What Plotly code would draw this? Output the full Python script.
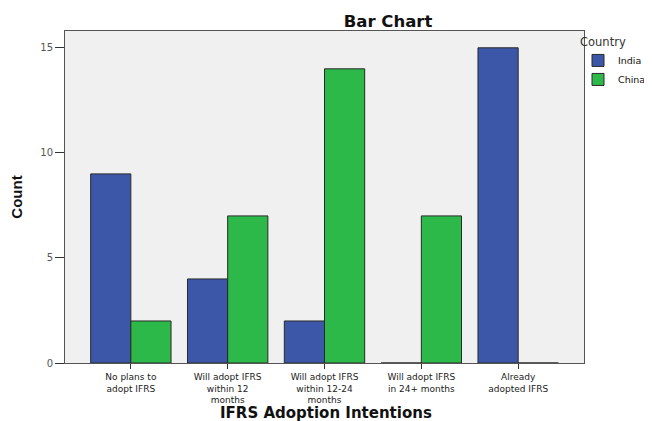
import plotly.graph_objects as go

categories = ["No plans to<br>adopt IFRS", "Will adopt IFRS<br>within 12<br>months",
              "Will adopt IFRS<br>within 12-24<br>months", "Will adopt IFRS<br>in 24+ months",
              "Already<br>adopted IFRS"]
india = [9, 4, 2, 0, 15]
china = [2, 7, 14, 7, 0]
y_ticks = [0, 5, 10, 15]

# page body has an 8px margin, so the figure is 8px smaller than the window
W, H = 644, 413
L, R, T, B = 57, 68, 23, 58
pw, ph = W - L - R, H - T - B

fig = go.Figure()
fig.add_bar(x=categories, y=india, name="India",
            marker=dict(color="#3c56a8", line=dict(color="#2a2a2a", width=1)))
fig.add_bar(x=categories, y=china, name="China",
            marker=dict(color="#2db84a", line=dict(color="#2a2a2a", width=1)))

fig.update_layout(
    width=W, height=H,
    margin=dict(l=L, r=R, t=T, b=B, autoexpand=False),
    paper_bgcolor="white", plot_bgcolor="#f0f0f0",
    barmode="group", bargap=0.17, bargroupgap=0,
    font=dict(family="DejaVu Sans, Verdana, sans-serif", size=10, color="#222"),
    title=dict(text="<b>Bar Chart</b>", x=380 / W, xanchor="center", y=1 - 13 / H, yanchor="middle",
               font=dict(family="DejaVu Sans, sans-serif", size=16.5, color="#111")),
    legend=dict(title=dict(text="Country", font=dict(size=11.5, color="#333")),
                x=(W - 1 - L) / pw, xanchor="right", y=1.0, yanchor="top",
                font=dict(size=9.5, color="#111"), itemwidth=30, tracegroupgap=0,
                bgcolor="rgba(0,0,0,0)"),
    showlegend=True,
    annotations=[dict(text="<b>IFRS Adoption Intentions</b>", xref="paper", yref="paper",
                      x=(318 - L) / pw, y=-(405 - (H - B)) / ph, xanchor="center", yanchor="middle",
                      showarrow=False, font=dict(family="DejaVu Sans, sans-serif", size=15, color="#111"))],
)
fig.update_xaxes(range=[-0.68, 4.68], showgrid=False, showline=True, linecolor="#555", linewidth=1,
                 mirror=True, ticks="outside", ticklen=5, tickcolor="#333",
                 tickfont=dict(family="DejaVu Sans, sans-serif", size=9, color="#222"))
fig.update_yaxes(range=[0, 15.8], tickvals=y_ticks, showgrid=False, zeroline=False, showline=True,
                 linecolor="#555", linewidth=1, mirror=True, ticks="outside", ticklen=9, tickcolor="#333",
                 tickfont=dict(family="DejaVu Sans, sans-serif", size=10, color="#555"),
                 title=dict(text="<b>Count</b>", font=dict(family="Liberation Sans Narrow, Liberation Sans, Arial, sans-serif", size=15, color="#111"), standoff=14))

fig.write_html("out.html")
